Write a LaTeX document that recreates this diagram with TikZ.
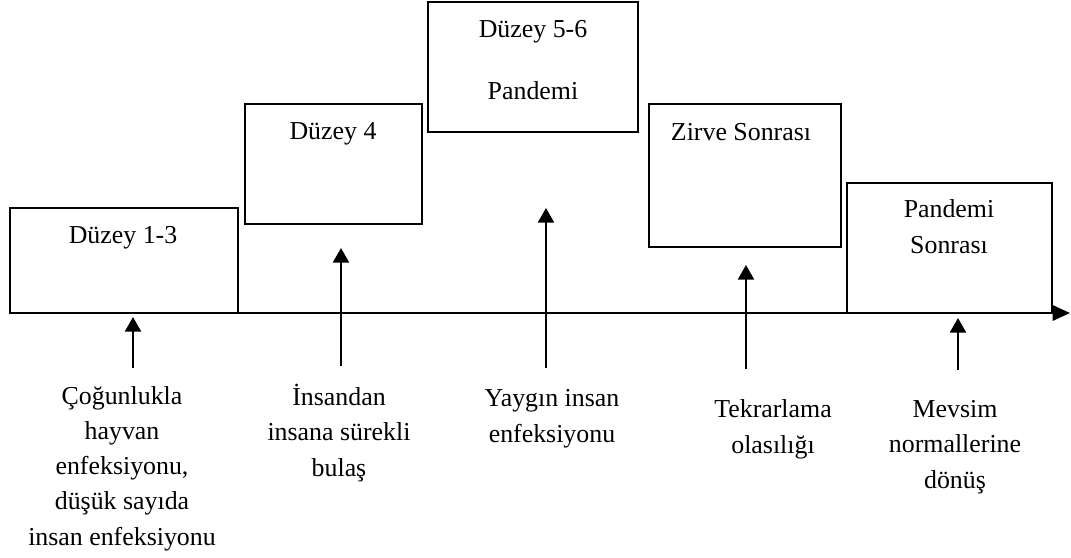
\documentclass[tikz,border=0pt]{standalone}
\usepackage{fontspec}
\setmainfont{Liberation Serif}
\usetikzlibrary{arrows.meta}
\tikzset{
  box/.style={draw=black, line width=1.1pt, inner sep=0pt, outer sep=0pt, fill=none},
  lbl/.style={align=center, anchor=base, inner sep=0pt, font=\fontsize{19.4pt}{26.3pt}\selectfont},
  uparr/.style={line width=1.8pt, -{Triangle[width=12pt,length=11pt]}},
  axisarr/.style={line width=1.7pt, -{Triangle[width=11.5pt,length=13pt]}}
}
\begin{document}
\begin{tikzpicture}[x=0.75pt, y=-0.75pt]
\useasboundingbox (0,0) rectangle (1071,557);
% boxes
\node[box, minimum width=171pt, minimum height=78.75pt] (b1) at (124,260.5) {};
\node[box, minimum width=132.75pt, minimum height=90pt] (b2) at (333.5,164) {};
\node[box, minimum width=157.5pt, minimum height=97.5pt] (b3) at (533,67) {};
\node[box, minimum width=144pt, minimum height=107.25pt] (b4) at (745,175.5) {};
\node[box, minimum width=153.75pt, minimum height=97.5pt] (b5) at (949.5,248) {};
% box texts (anchor = baseline of the last line)
\node[lbl] (t1) at (123,243) {Düzey 1-3};
\node[lbl] (t2) at (333,139) {Düzey 4};
\node[lbl] (t3) at (533,99) {Düzey 5-6\\[20.2pt]Pandemi};
\node[lbl] (t4) at (741,140) {Zirve Sonrası};
\node[lbl] (t5) at (949,253) {Pandemi\\Sonrası};
% axis
\coordinate (ax0) at (137,313);
\coordinate (ax1) at (1070,313);
\draw[axisarr] (ax0) -- (ax1);
% arrows
\coordinate (a1s) at (133,368); \coordinate (a1e) at (133,317);
\coordinate (a2s) at (341,366); \coordinate (a2e) at (341,248);
\coordinate (a3s) at (546,368); \coordinate (a3e) at (546,208);
\coordinate (a4s) at (746,369); \coordinate (a4e) at (746,265);
\coordinate (a5s) at (958,370); \coordinate (a5e) at (958,318);
\draw[uparr] (a1s) -- (a1e);
\draw[uparr] (a2s) -- (a2e);
\draw[uparr] (a3s) -- (a3e);
\draw[uparr] (a4s) -- (a4e);
\draw[uparr] (a5s) -- (a5e);
% bottom labels (anchor = baseline of the last line)
\node[lbl] (d1) at (122,545) {Çoğunlukla\\hayvan\\enfeksiyonu,\\düşük sayıda\\insan enfeksiyonu};
\node[lbl] (d2) at (339,476) {İnsandan\\insana sürekli\\bulaş};
\node[lbl] (d3) at (552,442) {Yaygın insan\\enfeksiyonu};
\node[lbl] (d4) at (773,453) {Tekrarlama\\olasılığı};
\node[lbl] (d5) at (955,488) {Mevsim\\normallerine\\dönüş};
\end{tikzpicture}
\end{document}
